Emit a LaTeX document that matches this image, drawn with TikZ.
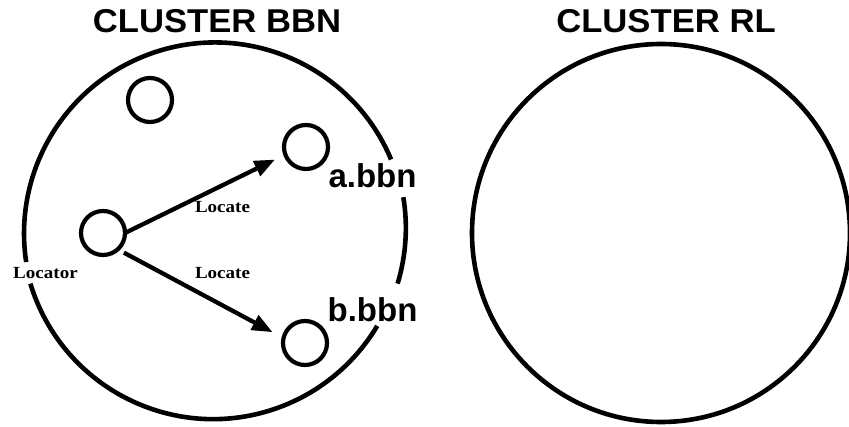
\documentclass[tikz,border=0pt]{standalone}
\usepackage{fontspec}
\setmainfont{Liberation Serif}
\newfontfamily\headfont{Liberation Sans}
\usetikzlibrary{arrows.meta}
\begin{document}
\begin{tikzpicture}[x=1pt,y=1pt,
  bigc/.style={circle,draw=none,inner sep=0pt,outer sep=0pt,minimum size=382pt},
  smallc/.style={circle,draw,line width=4.2pt,inner sep=0pt,outer sep=0pt,minimum size=44pt},
  ringarc/.style={line width=4.6pt},
  headtxt/.style={font=\headfont\bfseries\fontsize{33}{36}\selectfont,anchor=base,xscale=1.05,inner sep=0pt},
  hostlbl/.style={font=\headfont\bfseries\fontsize{33}{36}\selectfont,anchor=base,inner sep=0pt},
  smalllbl/.style={font=\bfseries\fontsize{17}{19}\selectfont,anchor=base,xscale=1.12,inner sep=0pt},
  arr/.style={line width=4.3pt,-{Triangle[length=20pt,width=17pt,line width=1pt]}}]
\useasboundingbox (0,0) rectangle (849,426);
% titles
\node[headtxt] (t1) at (217,393) {CLUSTER BBN};
\node[headtxt] (t2) at (666,393) {CLUSTER RL};
% big circles
\node[bigc] (L) at (214,195) {};
\draw[ringarc] (L.22.8) arc[start angle=22.8,end angle=188.6,radius=191pt];
\draw[ringarc] (L.196.9) arc[start angle=196.9,end angle=329.2,radius=191pt];
\draw[ringarc] (L.-16.9) arc[start angle=-16.9,end angle=9.3,radius=191pt];
\node[bigc,draw,line width=4.6pt,minimum size=378pt] (R) at (661,193) {};
% small circles
\node[smallc] (top) at (150,326) {};
\node[smallc] (loc) at (103,193) {};
\node[smallc] (a) at (306,279) {};
\node[smallc] (b) at (305,83) {};
% arrows
\draw[arr,shorten >=12pt] (loc.east) -- (a.200);
\draw[arr,shorten <=7pt,shorten >=13pt] (loc.-48) -- (b.167);
% labels
\node[smalllbl] (l1) at (222.5,213) {Locate};
\node[smalllbl] (l2) at (222.5,147) {Locate};
\node[smalllbl] (l3) at (45.5,147) {Locator};
\node[hostlbl] (na) at (372.5,238) {a.bbn};
\node[hostlbl] (nb) at (372.5,104) {b.bbn};
\end{tikzpicture}
\end{document}
